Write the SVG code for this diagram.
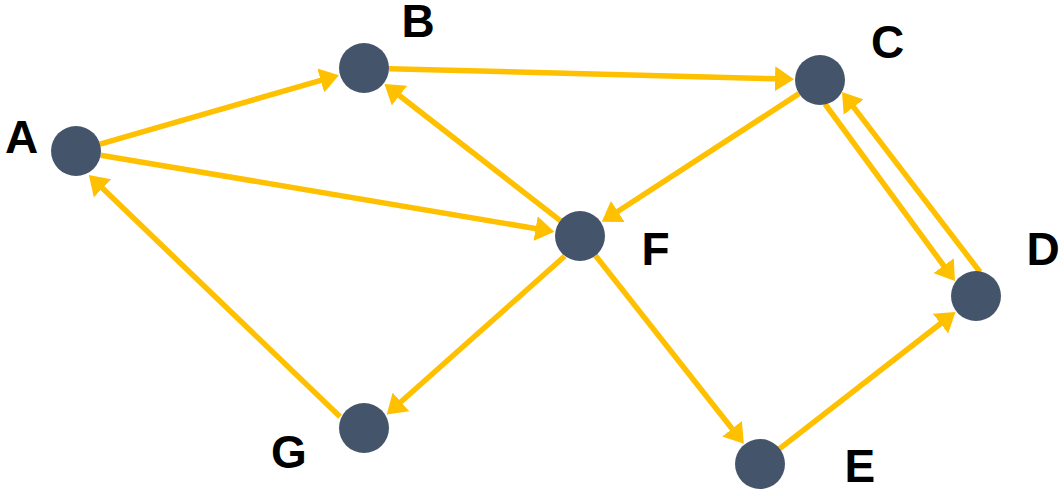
<svg xmlns="http://www.w3.org/2000/svg" width="1064" height="496" viewBox="0 0 1064 496">
<style>
.edge{fill:none;stroke:#FFC000;stroke-width:5.5;marker-end:url(#arr)}
.node{fill:#44546A}
.lbl{font-family:"Liberation Sans",Arial,sans-serif;font-weight:bold;font-size:46px;fill:#000}
</style>
<defs>
<marker id="arr" markerUnits="userSpaceOnUse" markerWidth="19" markerHeight="25" refX="1" refY="12.5" orient="auto" viewBox="0 0 19 25">
<path d="M0,0 L19,12.5 L0,25 z" fill="#FFC000"/>
</marker>
</defs>
<rect width="1064" height="496" fill="#fff"/>
<g id="connectors">
<path class="edge" d="M100,144.1 L321.7,80.2"/>
<path class="edge" d="M389,68.7 L776,78.8"/>
<path class="edge" d="M100.7,155.2 L536.6,228.7"/>
<path class="edge" d="M560.3,220.6 L398.7,95"/>
<path class="edge" d="M799,93.6 L616.9,212"/>
<path class="edge" d="M825,104 L944.3,266.5"/>
<path class="edge" d="M980,272 L853,106.3"/>
<path class="edge" d="M564.6,256.3 L400.2,402.5"/>
<path class="edge" d="M340.1,416.8 L101.8,187.6"/>
<path class="edge" d="M595.5,255.6 L732.7,429.5"/>
<path class="edge" d="M779.7,448.6 L941.3,323"/>
</g>
<g id="node-A"><circle class="node" cx="76" cy="151" r="25"/><text class="lbl" x="5" y="153">A</text></g>
<g id="node-B"><circle class="node" cx="364" cy="68" r="25"/><text class="lbl" x="401.6" y="37">B</text></g>
<g id="node-C"><circle class="node" cx="820" cy="80" r="25"/><text class="lbl" x="871" y="58">C</text></g>
<g id="node-D"><circle class="node" cx="976" cy="296" r="25"/><text class="lbl" x="1026.6" y="265">D</text></g>
<g id="node-E"><circle class="node" cx="760" cy="464" r="25"/><text class="lbl" x="844.6" y="482">E</text></g>
<g id="node-F"><circle class="node" cx="580" cy="236" r="25"/><text class="lbl" x="641.6" y="265">F</text></g>
<g id="node-G"><circle class="node" cx="364" cy="428" r="25"/><text class="lbl" x="271" y="468">G</text></g>
</svg>
